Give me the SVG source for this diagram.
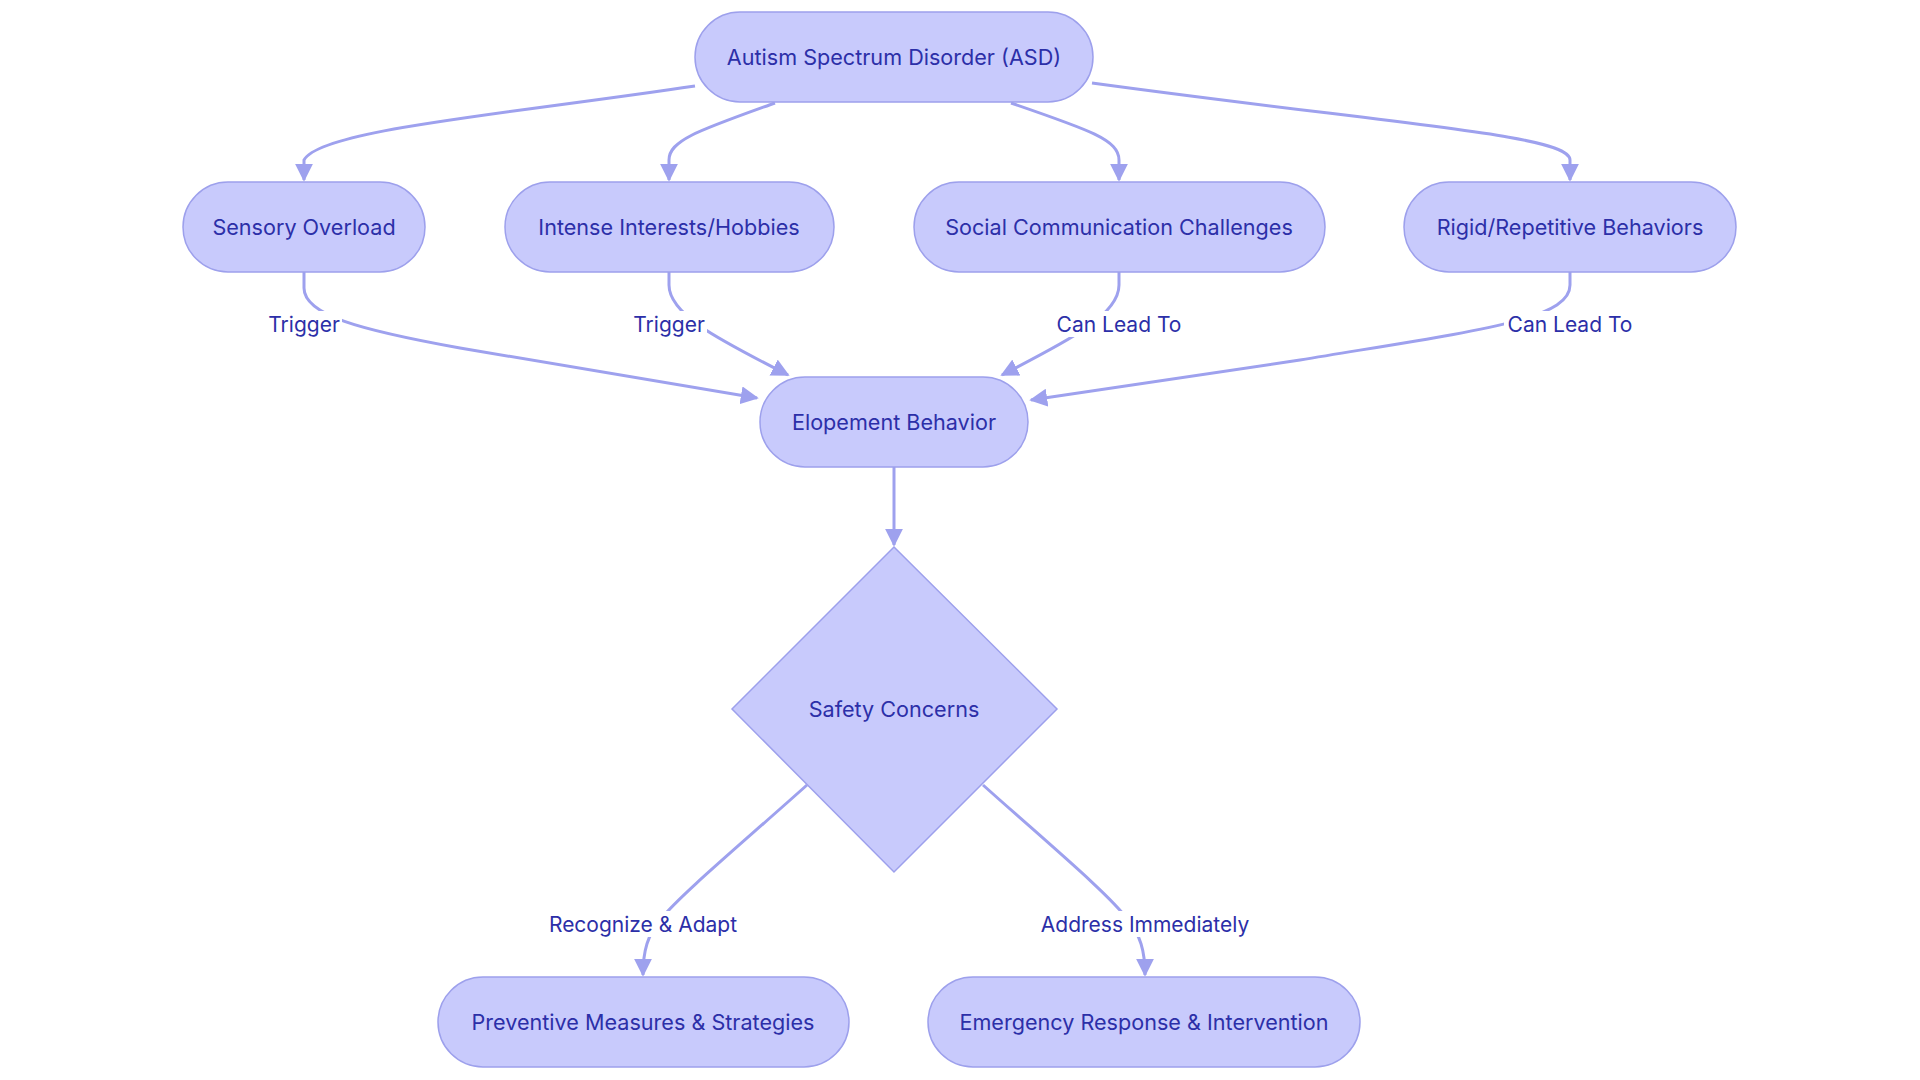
<svg xmlns="http://www.w3.org/2000/svg" width="1920" height="1080" viewBox="0 0 1920 1080">
<style>
.node rect,.node polygon{fill:#C8CAFC;stroke:#9DA0EC;stroke-width:1.5}
.nt{font-family:Inter,"Noto Sans",sans-serif;font-size:21.6px;fill:#2C2FA8;text-anchor:middle;dominant-baseline:central}
.edge{fill:none;stroke:#9EA1EE;stroke-width:3;marker-end:url(#arr)}
.lbg{fill:#ffffff}
.lt{font-family:Inter,"Noto Sans",sans-serif;font-size:21px;fill:#2C2FA8;text-anchor:middle;dominant-baseline:central}
</style>
<defs>
<marker id="arr" viewBox="0 0 10 10" refX="9" refY="5" markerWidth="6" markerHeight="6" markerUnits="strokeWidth" orient="auto">
<path d="M0,0 L10,5 L0,10 z" fill="#9EA1EE"/>
</marker>
</defs>
<rect width="1920" height="1080" fill="#ffffff"/>
<g id="connectors">
<path class="edge" d="M695,86 C500,115 320,130 304,160 L304,180"/>
<path class="edge" d="M775,103 C700,130 669,140 669,160 L669,180"/>
<path class="edge" d="M1011,103 C1090,130 1119,140 1119,160 L1119,180"/>
<path class="edge" d="M1092,83 C1400,125 1570,135 1570,160 L1570,180"/>
<path class="edge" d="M304,272 L304,288 C304,315 360,330 460,348 L757,398"/>
<path class="edge" d="M669,272 L669,285 C669,315 720,340 788,375"/>
<path class="edge" d="M1119,272 L1119,285 C1119,315 1070,340 1002,375"/>
<path class="edge" d="M1570,272 L1570,285 C1570,320 1480,330 1300,360 L1031,400"/>
<path class="edge" d="M894,467 L894,545"/>
<path class="edge" d="M807,785 C740,845 680,895 660,920 C648,935 643,950 643,975"/>
<path class="edge" d="M983,785 C1050,845 1110,895 1128,920 C1140,935 1145,950 1145,975"/>
<g id="edge-labels">
<rect class="lbg" x="266" y="311" width="76" height="26"/><text class="lt" x="304" y="324">Trigger</text>
<rect class="lbg" x="631" y="311" width="76" height="26"/><text class="lt" x="669" y="324">Trigger</text>
<rect class="lbg" x="1053" y="311" width="132" height="26"/><text class="lt" x="1119" y="324">Can Lead To</text>
<rect class="lbg" x="1504" y="311" width="132" height="26"/><text class="lt" x="1570" y="324">Can Lead To</text>
<rect class="lbg" x="545" y="911" width="196" height="26"/><text class="lt" x="643" y="924">Recognize &amp; Adapt</text>
<rect class="lbg" x="1035" y="911" width="220" height="26"/><text class="lt" x="1145" y="924">Address Immediately</text>
</g>
</g>
<g id="asd" class="node"><rect x="695" y="12" width="398" height="90" rx="45"/><text class="nt" x="894" y="57">Autism Spectrum Disorder (ASD)</text></g>
<g id="sensory" class="node"><rect x="183" y="182" width="242" height="90" rx="45"/><text class="nt" x="304" y="227">Sensory Overload</text></g>
<g id="interests" class="node"><rect x="505" y="182" width="329" height="90" rx="45"/><text class="nt" x="669" y="227">Intense Interests/Hobbies</text></g>
<g id="social" class="node"><rect x="914" y="182" width="411" height="90" rx="45"/><text class="nt" x="1119" y="227">Social Communication Challenges</text></g>
<g id="rigid" class="node"><rect x="1404" y="182" width="332" height="90" rx="45"/><text class="nt" x="1570" y="227">Rigid/Repetitive Behaviors</text></g>
<g id="elopement" class="node"><rect x="760" y="377" width="268" height="90" rx="45"/><text class="nt" x="894" y="422">Elopement Behavior</text></g>
<g id="safety" class="node"><polygon points="894,547 1057,709 894,872 732,709"/><text class="nt" x="894" y="709">Safety Concerns</text></g>
<g id="preventive" class="node"><rect x="438" y="977" width="411" height="90" rx="45"/><text class="nt" x="643" y="1022">Preventive Measures &amp; Strategies</text></g>
<g id="emergency" class="node"><rect x="928" y="977" width="432" height="90" rx="45"/><text class="nt" x="1144" y="1022">Emergency Response &amp; Intervention</text></g>
</svg>
